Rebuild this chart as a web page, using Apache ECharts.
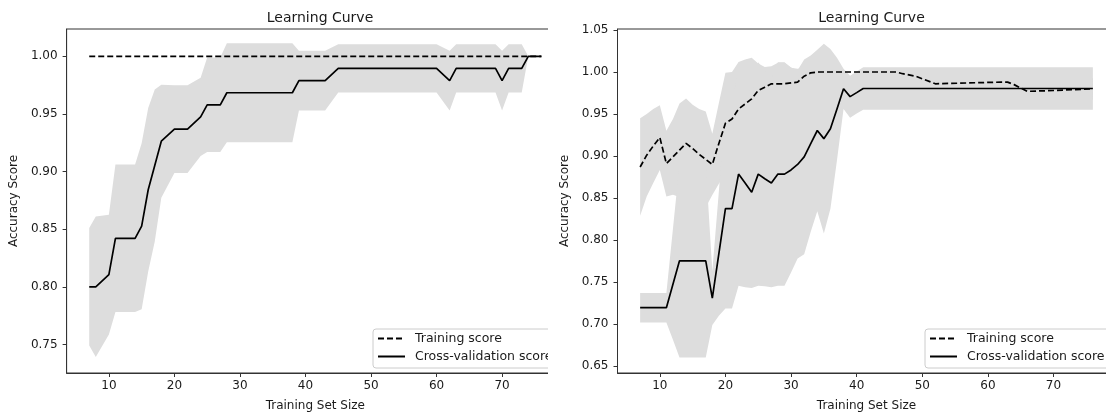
<!DOCTYPE html>
<html><head><meta charset="utf-8">
<script src="https://cdn.jsdelivr.net/npm/echarts@6/dist/echarts.min.js"></script>
<style>
html,body{margin:0;padding:0;width:1106px;height:417px;overflow:hidden;background:#fff;}
.clip{position:absolute;top:0;height:417px;overflow:hidden;}
#clipL{left:0;width:548px;}
#clipR{left:548px;width:558px;}
.chart{position:absolute;left:0;top:0;width:580px;height:417px;}
</style></head><body>
<div class="clip" id="clipL"><div class="chart" id="chartL"></div></div>
<div class="clip" id="clipR"><div class="chart" id="chartR"></div></div>
<script>
// ---- data: left panel ----
const sizesLeft = [7,8,10,11,14,15,16,17,18,20,22,24,25,27,28,38,39,43,45,60,62,63,69,70,71,73,74,76];
const trainMeanLeft = [1,1,1,1,1,1,1,1,1,1,1,1,1,1,1,1,1,1,1,1,1,1,1,1,1,1,1,1];
const trainStdLeft = [0,0,0,0,0,0,0,0,0,0,0,0,0,0,0,0,0,0,0,0,0,0,0,0,0,0,0,0];
const cvMeanLeft = [0.8,0.8,0.8105,0.8421,0.8421,0.8526,0.8842,0.9053,0.9263,0.9368,0.9368,0.9474,0.9579,0.9579,0.9684,0.9684,0.9789,0.9789,0.9895,0.9895,0.9789,0.9895,0.9895,0.9789,0.9895,0.9895,1.0,1.0];
const cvStdLeft = [0.051,0.061,0.052,0.064,0.064,0.072,0.071,0.066,0.049,0.038,0.038,0.034,0.041,0.041,0.043,0.043,0.026,0.026,0.021,0.021,0.026,0.021,0.021,0.026,0.021,0.021,0,0];

// ---- data: right panel ----
const sizesRight = [7,8,9,10,11,12,13,14,15,16,17,18,19,20,21,22,23,24,25,26,27,28,29,30,31,32,33,34,35,36,37,38,39,40,41,46,47,49,52,62,63,64,66,70,76];
const trainMeanRight = [0.887,0.901,0.912,0.922,0.891,0.899,0.907,0.915,0.909,0.902,0.896,0.890,0.915,0.939,0.944,0.956,0.962,0.968,0.978,0.982,0.986,0.986,0.986,0.987,0.988,0.995,0.999,1,1,1,1,1,1,1,1,1,0.998,0.995,0.986,0.988,0.988,0.985,0.977,0.978,0.980];
const trainStdRight = [0.058,0.049,0.044,0.0385,0.039,0.045,0.0556,0.0535,0.052,0.054,0.057,0.0365,0.048,0.060,0.056,0.056,0.053,0.049,0.032,0.024,0.021,0.025,0.025,0.018,0.016,0.010,0.005,0,0,0,0,0,0,0,0,0,0.004,0.006,0.012,0.012,0.012,0.013,0.014,0.014,0.013];
const cvMeanRight = [0.7195,0.7195,0.7195,0.7195,0.7195,0.7474,0.7753,0.7753,0.7753,0.7753,0.7753,0.731,0.784,0.8375,0.8375,0.8785,0.868,0.857,0.8785,0.873,0.868,0.8785,0.8785,0.8835,0.890,0.899,0.9148,0.9304,0.9207,0.9324,0.956,0.980,0.9707,0.9755,0.9804,0.9804,0.9804,0.9804,0.9804,0.9804,0.9804,0.9804,0.9804,0.9804,0.9804];
const cvStdRight = [0.0176,0.0176,0.0176,0.0176,0.0176,0.066,0.1151,0.1151,0.1151,0.1151,0.1151,0.032,0.074,0.119,0.119,0.133,0.124,0.114,0.133,0.128,0.124,0.133,0.133,0.122,0.112,0.116,0.105,0.096,0.113,0.095,0.061,0.024,0.025,0.025,0.0254,0.0254,0.0254,0.0254,0.0254,0.0254,0.0254,0.0254,0.0254,0.0254,0.0254];

// ---- ticks / labels ----
const xTicks = [10,20,30,40,50,60,70];
const yTicksLeft = [0.75,0.80,0.85,0.90,0.95,1.00];
const yTicksRight = [0.65,0.70,0.75,0.80,0.85,0.90,0.95,1.00,1.05];
const titleText = 'Learning Curve';
const xName = 'Training Set Size';
const yName = 'Accuracy Score';
const legendNames = ['Training score','Cross-validation score'];

const FONT = 'DejaVu Sans';
const TXT = '#1a1a1a';
const AX = '#333';

function band(xs, mean, std) {
  return {
    type: 'custom', silent: true, z: 1,
    data: xs.map((x,i)=>[x, mean[i]-std[i], mean[i]+std[i]]),
    encode: {x: 0, y: [1,2]},
    renderItem: function(params, api) {
      if (params.dataIndex !== 0) return null;
      const pts = [];
      for (let i=0;i<xs.length;i++) pts.push(api.coord([xs[i], mean[i]+std[i]]));
      for (let i=xs.length-1;i>=0;i--) pts.push(api.coord([xs[i], mean[i]-std[i]]));
      return {type:'polygon', shape:{points:pts}, style:{fill:'#DDDDDD', stroke:null}};
    }
  };
}

function makeOption(c) {
  return {
    animation: false,
    title: {text: titleText, left: c.gl + 249, top: 6, textAlign: 'center',
      textStyle: {fontSize: 14, fontWeight: 'normal', color: TXT, fontFamily: FONT}},
    grid: {left: c.gl, top: 29, width: 498, height: 349, show: true,
      borderColor: AX, borderWidth: 1, backgroundColor: 'transparent', containLabel: false},
    legend: {orient: 'vertical', left: c.legLeft, top: 329, data: legendNames,
      itemWidth: 27, itemHeight: 14, itemGap: 5, padding: [3,6,5,4],
      borderColor: '#cccccc', borderWidth: 1, borderRadius: 3,
      backgroundColor: 'rgba(255,255,255,0.85)',
      itemStyle: {opacity: 0},
      textStyle: {fontSize: 12.5, color: TXT, fontFamily: FONT, padding: [0,0,0,5]}},
    xAxis: {type: 'value', min: 3.55, max: 79.45, splitLine: {show: false},
      axisLine: {show: true, onZero: false, lineStyle: {color: AX, width: 1}},
      axisTick: {show: true, length: 4, customValues: xTicks, lineStyle: {color: AX}},
      axisLabel: {customValues: xTicks, margin: 7, fontSize: 12, color: TXT, fontFamily: FONT},
      name: xName, nameLocation: 'middle', nameGap: 27,
      nameTextStyle: {fontSize: 12, color: TXT, fontFamily: FONT}},
    yAxis: {type: 'value', min: c.yMin, max: c.yMax, splitLine: {show: false},
      axisLine: {show: true, onZero: false, lineStyle: {color: AX, width: 1}},
      axisTick: {show: true, length: 4, customValues: c.yTicks, lineStyle: {color: AX}},
      axisLabel: {customValues: c.yTicks, margin: 9, fontSize: 12, color: TXT, fontFamily: FONT,
        formatter: v => v.toFixed(2)},
      name: yName, nameLocation: 'middle', nameGap: 40,
      nameTextStyle: {fontSize: 12, color: TXT, fontFamily: FONT}},
    series: [
      band(c.xs, c.tm, c.ts),
      band(c.xs, c.cm, c.cs),
      {name: legendNames[0], type: 'line', symbol: 'none', z: 3,
        data: c.xs.map((x,i)=>[x, c.tm[i]]),
        lineStyle: {color: '#000', width: 1.7, type: [6,3]}, itemStyle: {color: '#000'}},
      {name: legendNames[1], type: 'line', symbol: 'none', z: 3,
        data: c.xs.map((x,i)=>[x, c.cm[i]]),
        lineStyle: {color: '#000', width: 1.7}, itemStyle: {color: '#000'}}
    ]
  };
}

const chartL = echarts.init(document.getElementById('chartL'), null, {renderer: 'canvas'});
chartL.setOption(makeOption({gl: 66, legLeft: 373, yMin: 0.7252, yMax: 1.0237, yTicks: yTicksLeft,
  xs: sizesLeft, tm: trainMeanLeft, ts: trainStdLeft, cm: cvMeanLeft, cs: cvStdLeft}));
const chartR = echarts.init(document.getElementById('chartR'), null, {renderer: 'canvas'});
chartR.setOption(makeOption({gl: 69.5, legLeft: 377, yMin: 0.6418, yMax: 1.0512, yTicks: yTicksRight,
  xs: sizesRight, tm: trainMeanRight, ts: trainStdRight, cm: cvMeanRight, cs: cvStdRight}));
</script></body></html>
